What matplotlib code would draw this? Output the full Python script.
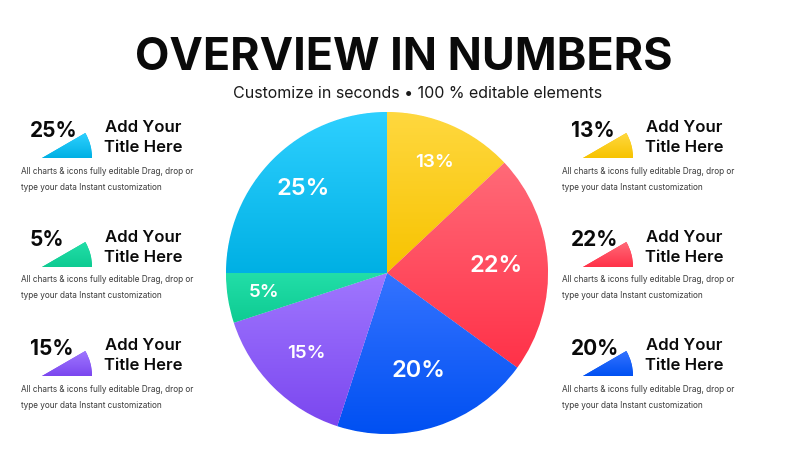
import numpy as np
import matplotlib.pyplot as plt
from matplotlib.patches import Wedge
from matplotlib.colors import LinearSegmentedColormap

plt.rcParams['font.family'] = ['Inter', 'DejaVu Sans']

# slice data, clockwise from 12 o'clock
labels = ['Yellow', 'Red', 'Blue', 'Purple', 'Green', 'Cyan']
values = [13, 22, 20, 15, 5, 25]
top_colors = ['#FFD83F', '#FF6A78', '#3473FF', '#A077FF', '#22DEA8', '#2ED0FF']
bottom_colors = ['#F7C300', '#FF3148', '#0050F2', '#7B47EF', '#0ECB92', '#00B0E4']
label_dist = [0.75, 0.68, 0.64, 0.71, 0.77, 0.74]

# side panels (index into the slices above)
left_items = [5, 4, 3]
right_items = [0, 1, 2]
panel_title = ['Add Your', 'Title Here']
panel_text = ['All charts & icons fully editable Drag, drop or',
              'type your data Instant customization']

H = 450
fig = plt.figure(figsize=(8, 4.5), dpi=100)
fig.patch.set_facecolor('white')
ax = fig.add_axes([0, 0, 1, 1])


def gradient_fill(patch, c1, c2):
    # vertical gradient clipped to a patch
    bb = patch.get_path().get_extents(patch.get_transform() - ax.transData)
    cmap = LinearSegmentedColormap.from_list('g', [c2, c1])
    grad = np.linspace(0, 1, 256).reshape(-1, 1)
    im = ax.imshow(grad, cmap=cmap, origin='lower', aspect='auto',
                   extent=[bb.x0, bb.x1, bb.y0, bb.y1], zorder=patch.get_zorder())
    im.set_clip_path(patch)


cx, cy, R = 387, H - 273, 161
wedges, texts, autotexts = ax.pie(values, colors=bottom_colors, startangle=90,
                                  counterclock=False, center=(cx, cy),
                                  radius=R, autopct='%d%%',
                                  wedgeprops=dict(linewidth=0.6, edgecolor='white'))
for w, c1, c2 in zip(wedges, top_colors, bottom_colors):
    gradient_fill(w, c1, c2)
for w, t, v, d in zip(wedges, autotexts, values, label_dist):
    mid = np.deg2rad((w.theta1 + w.theta2) / 2)
    t.set_position((cx + d * R * np.cos(mid), cy + d * R * np.sin(mid)))
    t.set_color('white')
    t.set_fontweight('semibold')
    t.set_fontsize(17 if v >= 20 else 13.5)
    t.set_zorder(5)

ax.set_xlim(0, 800)
ax.set_ylim(0, H)
ax.set_aspect('equal')
ax.axis('off')

ax.text(404, H - 70, 'OVERVIEW IN NUMBERS', ha='center', va='baseline',
        fontsize=32.3, fontweight='bold', color='#0A0A0A')
ax.text(418, H - 98, 'Customize in seconds \u2022 100 % editable elements',
        ha='center', va='baseline', fontsize=11.5, color='#1A1A1A')


def panel(idx, x0, y0):
    # x0: left of percent text, y0: vertical centre of percent text (pixels from top)
    w = Wedge((x0 + 12, H - (y0 + 27)), 50, 0, 30, zorder=2, facecolor=bottom_colors[idx],
              edgecolor='none')
    ax.add_patch(w)
    gradient_fill(w, top_colors[idx], bottom_colors[idx])
    ax.text(x0, H - y0, '%d%%' % values[idx], ha='left', va='center',
            fontsize=15, fontweight='bold', color='#0A0A0A', zorder=4)
    ax.text(x0 + 113, H - (y0 - 3), panel_title[0], ha='center', va='center',
            fontsize=12, fontweight='semibold', color='#0A0A0A')
    ax.text(x0 + 113, H - (y0 + 17), panel_title[1], ha='center', va='center',
            fontsize=12, fontweight='semibold', color='#0A0A0A')
    ax.text(x0 - 9, H - (y0 + 40), panel_text[0], ha='left', va='center',
            fontsize=5.9, color='#3A3A3A')
    ax.text(x0 - 9, H - (y0 + 56), panel_text[1], ha='left', va='center',
            fontsize=5.9, color='#3A3A3A')


row_y = [131, 240, 349]
for idx, y in zip(left_items, row_y):
    panel(idx, 30, y)
for idx, y in zip(right_items, row_y):
    panel(idx, 571, y)

fig.savefig('out.png', dpi=100, facecolor='white')
